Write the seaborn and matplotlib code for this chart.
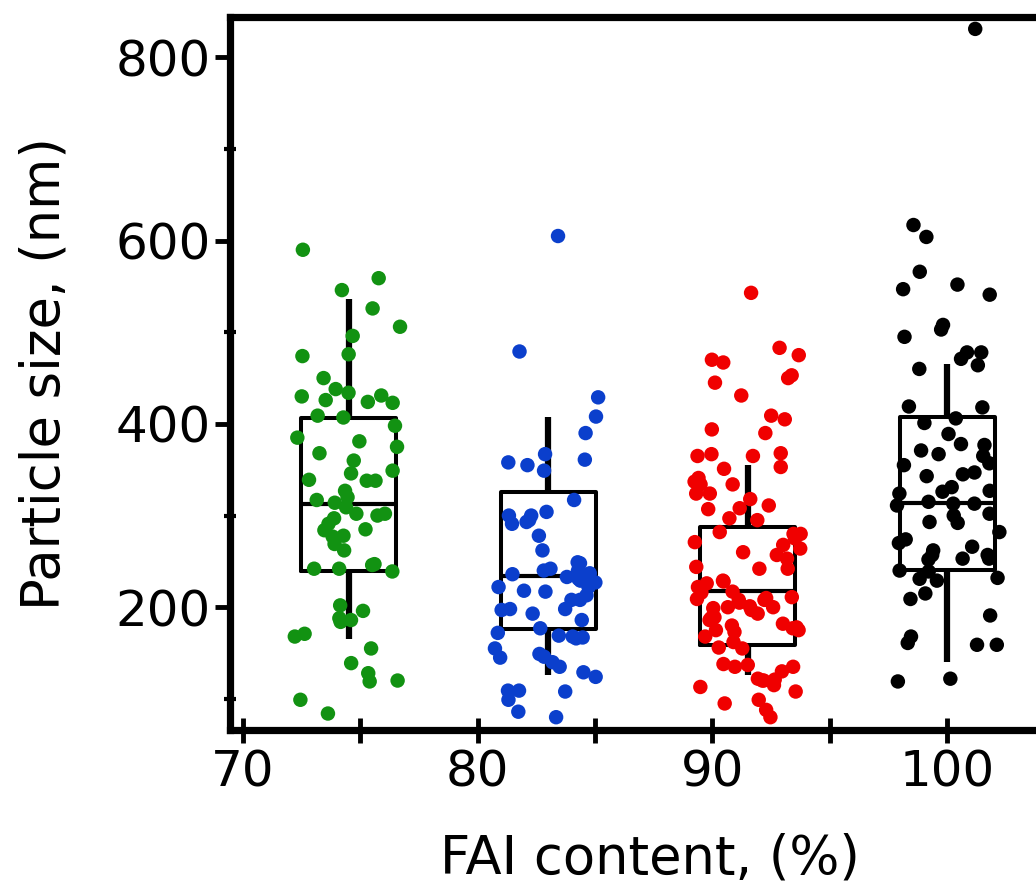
import numpy as np
import pandas as pd
import seaborn as sns
import matplotlib.pyplot as plt
from matplotlib.ticker import MultipleLocator

# FAI content positions of the four sample groups
fai_positions = [74.5, 83.0, 91.5, 100.0]
group_names = ["FAI 75", "FAI 83", "FAI 91", "FAI 100"]
group_colors = ["#129212", "#0b3fcc", "#f00000", "#000000"]

# Measured particle sizes (nm)
green_sizes = [590, 559, 546, 526, 506, 496, 476, 474, 450, 434, 424, 431, 438, 430,
               426, 423, 409, 407, 398, 385, 381, 375, 368, 360, 349, 339, 346, 338,
               338, 327, 317, 320, 314, 309, 297, 302, 300, 291, 302, 284, 278, 277,
               285, 269, 262, 246, 242, 239, 242, 247, 202, 184, 196, 186, 188, 168,
               171, 155, 139, 119, 120, 128, 99, 84]
blue_sizes = [605, 479, 429, 408, 390, 367, 361, 358, 355, 349, 317, 304, 300, 300,
              295, 293, 291, 278, 262, 249, 248, 242, 240, 240, 237, 233, 229, 227,
              222, 222, 218, 217, 208, 208, 198, 198, 197, 193, 186, 177, 169, 168,
              167, 166, 155, 149, 146, 145, 140, 135, 129, 124, 109, 109, 108, 99,
              86, 80, 236, 231, 213, 172]
red_sizes = [543, 483, 475, 467, 470, 450, 453, 445, 431, 409, 405, 394, 390, 368,
             365, 367, 365, 351, 353, 341, 337, 334, 334, 324, 324, 318, 311, 308,
             307, 297, 295, 275, 280, 282, 271, 268, 280, 260, 257, 253, 242, 242,
             244, 229, 228, 226, 211, 209, 210, 216, 217, 208, 199, 201, 197, 200,
             200, 188, 189, 180, 173, 175, 177, 182, 168, 162, 156, 155, 138, 137,
             135, 135, 120, 122, 121, 113, 115, 108, 99, 95, 88, 80, 208, 186, 175,
             178, 205, 193, 222, 264, 130, 120]
black_sizes = [831, 617, 604, 566, 552, 547, 541, 508, 503, 495, 478, 478, 471, 460,
               464, 419, 418, 406, 401, 389, 378, 371, 377, 367, 357, 365, 355, 345,
               343, 347, 331, 326, 327, 324, 313, 315, 311, 313, 300, 302, 292, 293,
               282, 274, 270, 266, 262, 257, 257, 252, 253, 253, 239, 240, 231, 232,
               229, 209, 215, 191, 168, 159, 161, 159, 122, 119]

# Box summaries: lower whisker, Q1, median, Q3, upper whisker (nm)
green_box = [165, 240, 313, 406, 536]
blue_box = [126, 176, 234, 326, 407]
red_box = [126, 159, 218, 288, 355]
black_box = [140, 241, 314, 407, 465]

all_sizes = [green_sizes, blue_sizes, red_sizes, black_sizes]
all_boxes = [green_box, blue_box, red_box, black_box]

points = pd.DataFrame({
    "fai": np.concatenate([[p] * len(s) for p, s in zip(fai_positions, all_sizes)]),
    "group": np.concatenate([[g] * len(s) for g, s in zip(group_names, all_sizes)]),
    "size": np.concatenate(all_sizes),
})
boxes = pd.DataFrame({
    "fai": np.concatenate([[p] * 5 for p in fai_positions]),
    "size": np.concatenate(all_boxes),
})

sns.set_theme(style="white")
plt.rcParams["font.family"] = ["DejaVu Sans"]
plt.rcParams.update({
    "text.color": "black",
    "axes.labelcolor": "black",
    "xtick.color": "black",
    "ytick.color": "black",
})

fig = plt.figure(figsize=(10.36, 8.93), dpi=100)
ax = fig.add_axes([0.222, 0.1825, 0.81, 0.7985])

sns.boxplot(data=boxes, x="fai", y="size", native_scale=True, whis=(0, 100),
            width=0.476, fill=False, color="black", linewidth=2.9,
            showcaps=False, showfliers=False,
            whiskerprops=dict(linewidth=4.5),
            medianprops=dict(linewidth=3.0),
            ax=ax)

np.random.seed(7)
sns.stripplot(data=points, x="fai", y="size", hue="group",
              palette=dict(zip(group_names, group_colors)),
              native_scale=True, jitter=0.27, size=10.4, linewidth=0,
              legend=False, zorder=3, ax=ax)

ax.set_xlim(69.45, 105.2)
ax.set_ylim(66, 844)

ax.xaxis.set_major_locator(MultipleLocator(10))
ax.xaxis.set_minor_locator(MultipleLocator(5))
ax.yaxis.set_major_locator(MultipleLocator(200))
ax.yaxis.set_minor_locator(MultipleLocator(100))

for side in ["left", "bottom", "top", "right"]:
    ax.spines[side].set_visible(True)
    ax.spines[side].set_linewidth(5.2)
    ax.spines[side].set_color("black")

ax.tick_params(axis="y", which="major", direction="out", length=11, width=3.5,
               labelsize=36, pad=3, left=True)
ax.tick_params(axis="y", which="minor", direction="inout", length=9, width=3,
               left=True)
ax.tick_params(axis="x", which="both", direction="inout", length=18, width=3.5,
               labelsize=36, pad=4, bottom=True)

ax.set_xlabel("FAI content, (%)", fontsize=38, labelpad=26)
ax.set_ylabel("Particle size, (nm)", fontsize=38, labelpad=32)

fig.savefig("out.png", dpi=100)
